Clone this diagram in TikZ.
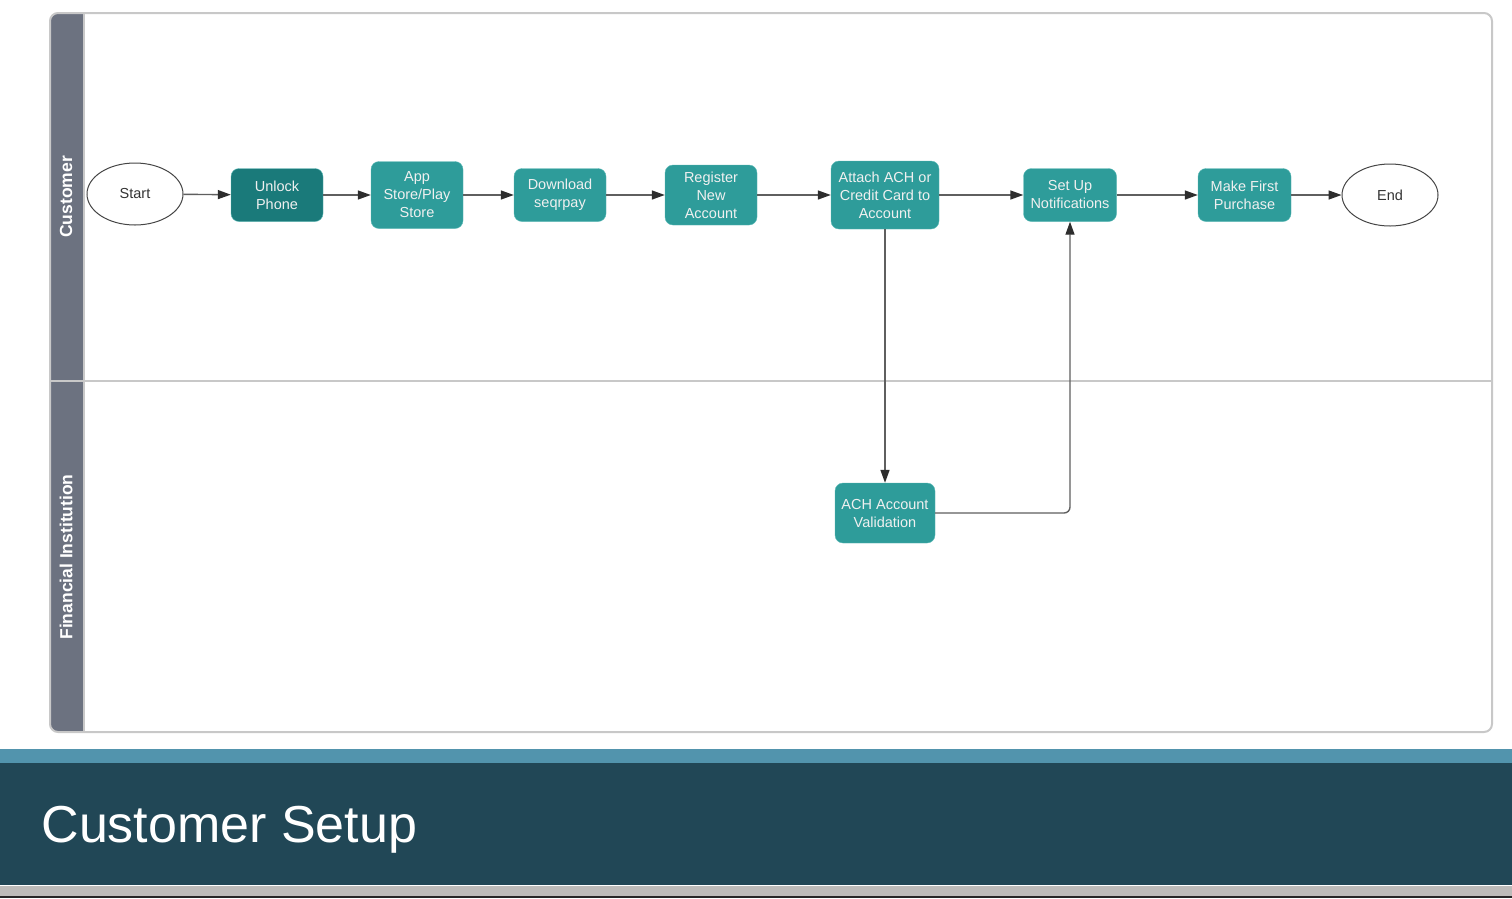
\documentclass[tikz,border=0pt]{standalone}
\usepackage{fontspec}
\setmainfont{Liberation Sans}
\usetikzlibrary{arrows.meta,positioning,shapes.geometric}
\definecolor{taskfill}{RGB}{46,156,154}
\definecolor{taskdark}{RGB}{26,122,122}
\definecolor{taskline}{RGB}{90,185,182}
\definecolor{lanehead}{RGB}{108,114,128}
\definecolor{framegray}{RGB}{200,200,200}
\definecolor{flowline}{RGB}{95,95,95}
\definecolor{tipgray}{RGB}{45,45,45}
\definecolor{termline}{RGB}{70,70,70}
\definecolor{stripeblue}{RGB}{82,148,173}
\definecolor{bandblue}{RGB}{33,71,86}
\definecolor{footgray}{RGB}{189,187,185}

\tikzset{
  task/.style={draw=taskline, fill=taskfill, rounded corners=8pt, text=white!94!black,
    align=center, font=\fontsize{14.5}{18}\selectfont, inner sep=0pt,
    minimum width=92pt, minimum height=53pt},
  terminal/.style={ellipse, draw=termline, line width=1pt, fill=white, text=black!80,
    font=\fontsize{14.5}{18}\selectfont, minimum width=96pt, minimum height=62pt},
  lanelabel/.style={rotate=90, text=white, font=\bfseries\fontsize{17.5}{20}\selectfont},
  flow/.style={draw=flowline, line width=1.4pt,
    -{Triangle[length=13pt,width=9pt,color=tipgray]}}
}

\begin{document}
\begin{tikzpicture}[x=1pt,y=-1pt]
    % page and bands
    \fill[white] (0,0) rectangle (1512,898);
    \useasboundingbox (0,0) rectangle (1512,898);
    \fill[stripeblue] (0,749) rectangle (1512,763);
    \fill[bandblue] (0,763) rectangle (1512,885);
    \fill[footgray] (0,886) rectangle (1512,896);
    \fill[black!85] (0,896) rectangle (1512,898);
    \node[anchor=base west, text=white, font=\fontsize{52}{60}\selectfont] (title) at (38,842) {Customer Setup};

    % pool with two lanes
    \fill[lanehead] (84,13) [rounded corners=8pt] -- (50,13) -- (50,732) [sharp corners] -- (84,732) -- cycle;
    \draw[framegray, line width=2pt, rounded corners=8pt] (50,13) rectangle (1492,732);
    \draw[framegray, line width=1.5pt] (84,13) -- (84,732);
    \draw[framegray, line width=1.5pt] (50,381) -- (1492,381);
    \node[lanelabel] (lanecust) at (66,197) {Customer};
    \node[lanelabel] (lanefin) at (66,557) {Financial Institution};

    % steps
    \node[terminal] (start) at (135,194) {Start};
    \node[task, fill=taskdark] (unlock) at (277,195) {Unlock\\Phone};
    \node[task, minimum height=67pt] (store) at (417,195) {App\\Store/Play\\Store};
    \node[task] (download) at (560,195) {Download\\seqrpay};
    \node[task, minimum height=60pt] (register) at (711,195) {Register\\New\\Account};
    \node[task, minimum width=108pt, minimum height=68pt] (attach) at (885,195) {Attach ACH or\\Credit Card to\\Account};
    \node[task, minimum width=93pt] (notify) at (1070,195) {Set Up\\Notifications};
    \node[task, minimum width=93pt] (purchase) at (1244.5,195) {Make First\\Purchase};
    \node[terminal] (end) at (1390,195) {End};
    \node[task, minimum width=100pt, minimum height=60pt] (validate) at (885,513) {ACH Account\\Validation};

    % connectors
    \draw[flow] (start) -- (unlock);
    \draw[flow] (unlock) -- (store);
    \draw[flow] (store) -- (download);
    \draw[flow] (download) -- (register);
    \draw[flow] (register) -- (attach);
    \draw[flow] (attach) -- (notify);
    \draw[flow] (notify) -- (purchase);
    \draw[flow] (purchase) -- (end);
    \draw[flow] (attach) -- (validate);
    \draw[flow, rounded corners=6pt] (validate) -| (notify);
\end{tikzpicture}
\end{document}
